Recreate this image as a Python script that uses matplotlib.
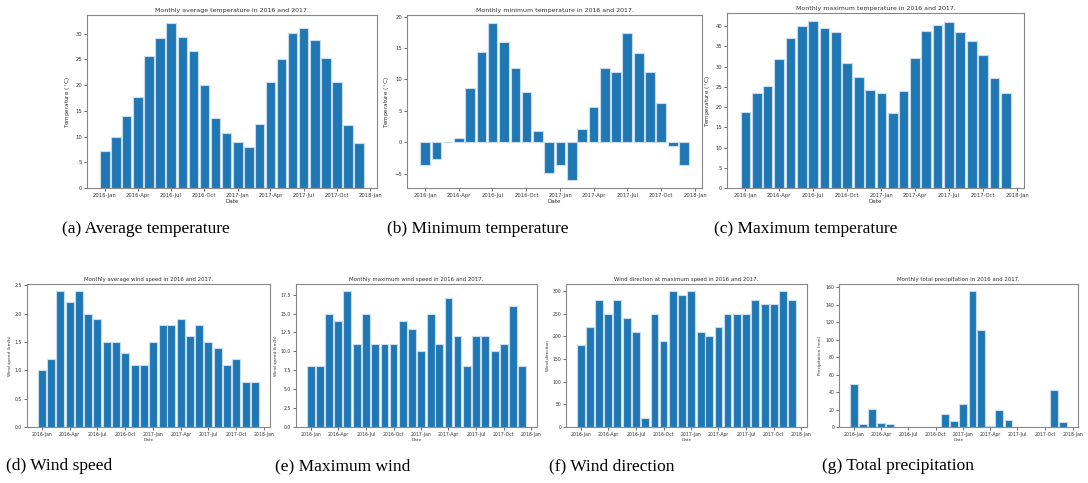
import matplotlib
matplotlib.use("Agg")
import matplotlib.pyplot as plt
import matplotlib.dates as mdates
import pandas as pd

months = pd.date_range("2016-01-01", "2017-12-01", freq="MS")

avg_temp = [7.2, 9.9, 14.0, 17.6, 25.6, 29.1, 32.0, 29.3, 26.6, 20.0, 13.6, 10.7,
            8.9, 8.0, 12.5, 20.5, 25.0, 30.1, 31.1, 28.7, 25.3, 20.5, 12.2, 8.8]
min_temp = [-3.6, -2.6, 0.0, 0.7, 8.6, 14.4, 19.0, 16.0, 11.8, 8.0, 1.8, -4.8,
            -3.6, -6.0, 2.2, 5.6, 11.8, 11.2, 17.4, 14.2, 11.2, 6.2, -0.6, -3.6]
max_temp = [18.8, 23.4, 25.2, 32.0, 37.0, 40.0, 41.2, 39.5, 38.5, 30.8, 27.4, 24.2,
            23.4, 18.6, 24.0, 32.1, 38.8, 40.2, 41.0, 38.6, 36.3, 32.8, 27.2, 23.4]
wind_speed = [1.0, 1.2, 2.4, 2.2, 2.4, 2.0, 1.9, 1.5, 1.5, 1.3, 1.1, 1.1,
              1.5, 1.8, 1.8, 1.9, 1.6, 1.8, 1.5, 1.4, 1.1, 1.2, 0.8, 0.8]
max_wind = [8, 8, 15, 14, 18, 11, 15, 11, 11, 11, 14, 13,
            10, 15, 11, 17, 12, 8, 12, 12, 10, 11, 16, 8]
wind_dir = [180, 220, 280, 250, 280, 240, 210, 20, 250, 190, 300, 290,
            300, 210, 200, 220, 250, 250, 250, 280, 270, 270, 300, 280]
precip = [49, 3, 21, 5, 3, 0, 0, 0, 0, 0, 15, 6.5,
          26.5, 156, 111, 1.5, 19.5, 8, 0, 0, 0, 0, 42, 6]

TEXT = "#333333"


def panel(fig, rect, values, title, ylabel, fs_title, fs_tick, fs_label):
    ax = fig.add_axes(rect)
    ax.bar(months, values, width=26, color="#1f77b4", edgecolor="#c8dcee", linewidth=0.8)
    ax.xaxis.set_major_locator(mdates.MonthLocator(bymonth=[1, 4, 7, 10]))
    ax.xaxis.set_major_formatter(mdates.DateFormatter("%Y-%b"))
    ax.set_title(title, fontsize=fs_title, pad=2, color=TEXT)
    ax.set_xlabel("Date", fontsize=fs_label, labelpad=1, color=TEXT)
    ax.set_ylabel(ylabel, fontsize=fs_label, labelpad=2, color=TEXT)
    ax.tick_params(labelsize=fs_tick, length=2, width=0.5, pad=1.5, colors=TEXT)
    for s in ax.spines.values():
        s.set_color("#888888")
        s.set_linewidth(0.8)
    return ax


fig = plt.figure(figsize=(10.88, 4.83), dpi=100)
H = 483.0
W = 1088.0


def rect(x0, x1, y0, y1):
    return [x0 / W, 1 - y1 / H, (x1 - x0) / W, (y1 - y0) / H]


degC = r"Temperature ($^\circ$C)"
panel(fig, rect(87, 377, 15, 188), avg_temp, "Monthly average temperature in 2016 and 2017.",
      degC, 4.5, 3.8, 4.1)
panel(fig, rect(407, 702, 15, 188), min_temp, "Monthly minimum temperature in 2016 and 2017.",
      degC, 4.5, 3.8, 4.1)
panel(fig, rect(727, 1024, 13, 188), max_temp, "Monthly maximum temperature in 2016 and 2017.",
      degC, 4.5, 3.8, 4.1)

panel(fig, rect(27, 270, 284, 427), wind_speed, "Monthly average wind speed in 2016 and 2017.",
      "Wind speed (km/h)", 3.9, 3.3, 3.1)
panel(fig, rect(296, 537, 284, 427), max_wind, "Monthly maximum wind speed in 2016 and 2017.",
      "Wind speed (km/h)", 3.9, 3.3, 3.1)
panel(fig, rect(566, 807, 284, 427), wind_dir, "Wind direction at maximum speed in 2016 and 2017.",
      "Wind direction", 3.9, 3.3, 3.1)
panel(fig, rect(839, 1078, 284, 427), precip, "Monthly total precipitation in 2016 and 2017.",
      "Precipitation (mm)", 3.9, 3.3, 3.1)

captions_top = [(62, "(a) Average temperature"), (387, "(b) Minimum temperature"),
                (714, "(c) Maximum temperature")]
captions_bot = [(6, "(d) Wind speed"), (275, "(e) Maximum wind"),
                (549, "(f) Wind direction"), (822, "(g) Total precipitation")]
for x, t in captions_top:
    fig.text(x / W, 1 - 229 / H, t, ha="left", va="center", fontsize=12.5,
             family="Liberation Serif", color="black")
for x, t in captions_bot:
    fig.text(x / W, 1 - 466 / H, t, ha="left", va="center", fontsize=12.5,
             family="Liberation Serif", color="black")

fig.savefig("out.png", dpi=100)
